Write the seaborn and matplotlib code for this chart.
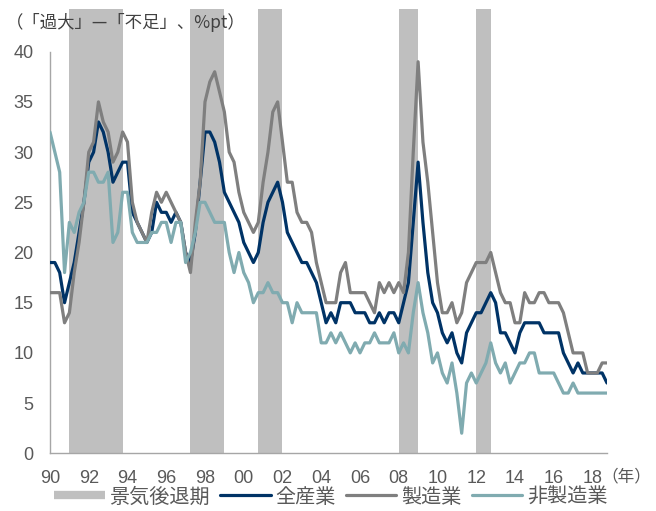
import pandas as pd
import matplotlib
matplotlib.use("Agg")
import matplotlib.pyplot as plt
import seaborn as sns
from matplotlib.lines import Line2D

# Quarterly data, 1990Q1 - 2018Q4
quarters = pd.period_range("1990Q1", "2018Q4", freq="Q")

all_industries = [
    19, 19, 18, 15, 17, 19, 22, 25, 29, 30, 33, 32, 30, 27, 28, 29, 29, 24, 23, 22,
    21, 22, 25, 24, 24, 23, 24, 23, 20, 19, 22, 27, 32, 32, 31, 29, 26, 25, 24, 23,
    21, 20, 19, 20, 23, 25, 26, 27, 25, 22, 21, 20, 19, 19, 18, 17, 15, 13, 14,
    13, 15, 15, 15, 14, 14, 14, 13, 13, 14, 13, 14, 14, 13, 15, 17, 23, 29,
    23, 18, 15, 14, 12, 11, 12, 10, 9, 12, 13, 14, 14, 15, 16, 15, 12, 12, 11, 10,
    12, 13, 13, 13, 13, 12, 12, 12, 12, 10, 9, 8, 9, 8, 8, 8, 8, 8, 7,
]
manufacturing = [
    16, 16, 16, 13, 14, 18, 21, 25, 30, 31, 35, 33, 32, 29, 30, 32, 31, 25, 23, 22,
    21, 24, 26, 25, 26, 25, 24, 23, 20, 18, 23, 27, 35, 37, 38, 36, 34, 30, 29, 26,
    24, 23, 22, 23, 27, 30, 34, 35, 31, 27, 27, 24, 23, 23, 22, 19, 17, 15, 15,
    15, 18, 19, 16, 16, 16, 16, 15, 14, 17, 16, 17, 16, 17, 16, 20, 30, 39,
    31, 27, 22, 17, 14, 14, 15, 13, 14, 17, 18, 19, 19, 19, 20, 18, 16, 15, 15, 13,
    13, 16, 15, 15, 16, 16, 15, 15, 15, 14, 12, 10, 10, 10, 8, 8, 8, 9, 9,
]
non_manufacturing = [
    32, 30, 28, 18, 23, 22, 24, 25, 28, 28, 27, 27, 28, 21, 22, 26, 26, 22, 21, 21,
    21, 22, 22, 23, 23, 21, 23, 23, 19, 20, 22, 25, 25, 24, 23, 23, 23, 20, 18, 20,
    18, 17, 15, 16, 16, 17, 16, 16, 15, 15, 13, 15, 14, 14, 14, 14, 11, 11, 12,
    11, 12, 11, 10, 11, 10, 11, 11, 12, 11, 11, 11, 12, 10, 11, 10, 14, 17,
    14, 12, 9, 10, 8, 7, 9, 6, 2, 7, 8, 7, 8, 9, 11, 9, 8, 9, 7, 8,
    9, 9, 10, 10, 8, 8, 8, 8, 7, 6, 6, 7, 6, 6, 6, 6, 6, 6, 6,
]

series_names = ["全産業", "製造業", "非製造業"]
series_colors = ["#003366", "#7f7f7f", "#80abb0"]

# recession periods (start quarter, end quarter)
recessions = [("1991Q1", "1993Q4"), ("1997Q2", "1999Q1"), ("2000Q4", "2002Q1"),
              ("2008Q1", "2009Q1"), ("2012Q1", "2012Q4")]

tick_labels = ["90", "92", "94", "96", "98", "00", "02", "04", "06", "08",
               "10", "12", "14", "16", "18"]

# Prepare data
df = pd.DataFrame({"t": range(len(quarters)),
                   "全産業": all_industries,
                   "製造業": manufacturing,
                   "非製造業": non_manufacturing})
long_df = df.melt(id_vars="t", var_name="series", value_name="value")
palette = dict(zip(series_names, series_colors))

sns.set_theme(style="white")
cjk = ["Noto Sans CJK JP", "DejaVu Sans"]
num_font = ["Liberation Sans", "DejaVu Sans"]
plt.rcParams["font.family"] = num_font

W, H = 656, 511
fig = plt.figure(figsize=(W / 100, H / 100), dpi=100)
ax = fig.add_axes([50 / W, 1 - 453.3 / H, 557 / W, (453.3 - 51.7) / H])

# recession shading (goes a bit above the 40 line, like the original)
qpos = {str(q): i for i, q in enumerate(quarters)}
for start, end in recessions:
    ax.axvspan(qpos[start], qpos[end], ymin=0, ymax=44.3 / 40, color="#bfbfbf",
               lw=0, zorder=0, clip_on=False)

sns.lineplot(data=long_df, x="t", y="value", hue="series", hue_order=series_names,
             palette=palette, linewidth=2.3, legend=False, ax=ax, zorder=3)

ax.set_xlim(0, len(quarters) - 1)
ax.set_ylim(0, 40)
ax.set_xlabel("")
ax.set_ylabel("")
ax.set_yticks(range(0, 41, 5))
ax.set_xticks(range(0, len(quarters), 8))
ax.set_xticklabels(tick_labels)
ax.tick_params(axis="both", length=0, pad=12, labelsize=13, labelcolor="#595959")

for side in ["top", "right"]:
    ax.spines[side].set_visible(False)
for side in ["left", "bottom"]:
    ax.spines[side].set_color("#a6a6a6")
    ax.spines[side].set_linewidth(1.0)
ax.set_facecolor("none")

# title / unit text
fig.text(6 / W, 1 - 22 / H, "（「過大」—「不足」、%pt）", ha="left", va="center",
         fontsize=12.5, color="#404040", family=cjk)
fig.text(601 / W, 1 - 477 / H, "（年）", ha="left", va="center",
         fontsize=12, color="#595959", family=cjk)

# legend
handles = [Line2D([0], [0], color="#bfbfbf", lw=6, solid_capstyle="butt")]
handles += [Line2D([0], [0], color=c, lw=2.3) for c in series_colors]
labels = ["景気後退期"] + series_names
fig.legend(handles, labels, loc="center", bbox_to_anchor=(331 / W, 1 - 497 / H),
           ncol=4, frameon=False, handlelength=2.5, handletextpad=0.25,
           columnspacing=0.5, prop={"family": cjk, "size": 14.5},
           labelcolor="#595959", borderaxespad=0, borderpad=0)

fig.savefig("out.png", dpi=100)
